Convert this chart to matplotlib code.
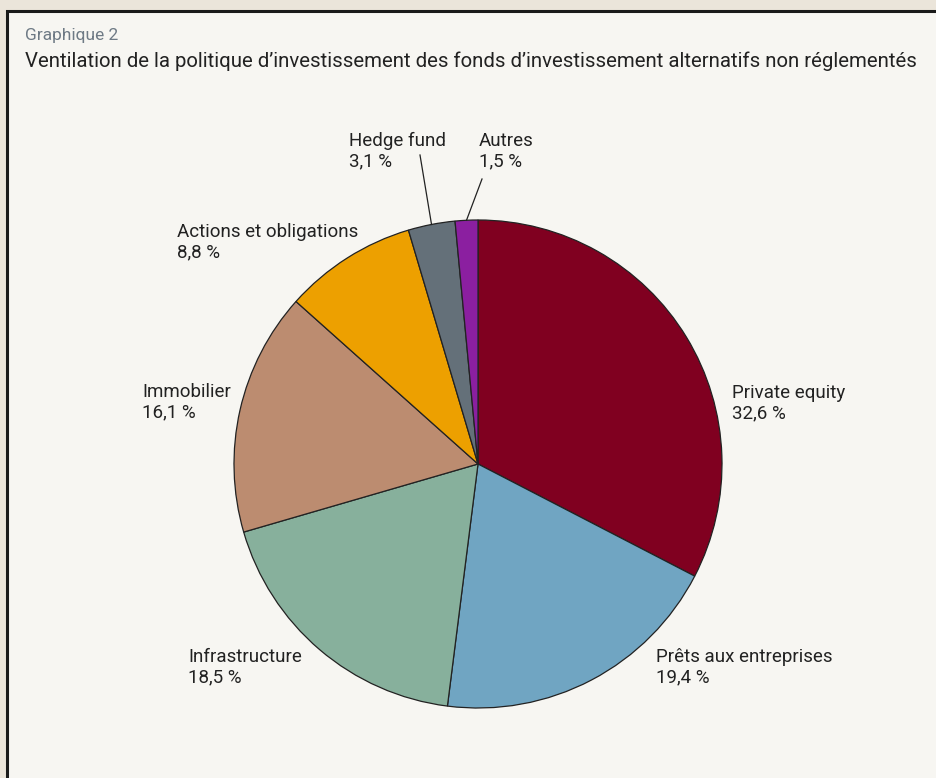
import numpy as np
import matplotlib
matplotlib.use("Agg")
import matplotlib.pyplot as plt
from matplotlib.patches import Rectangle

plt.rcParams["font.family"] = ["Roboto", "DejaVu Sans"]

categories = ["Private equity", "Prêts aux entreprises", "Infrastructure", "Immobilier",
              "Actions et obligations", "Hedge fund", "Autres"]
values = [32.6, 19.4, 18.5, 16.1, 8.8, 3.1, 1.5]
colors = ["#800020", "#70a5c2", "#87b09c", "#bc8c70", "#eda000", "#647079", "#8b1fa0"]

# label anchor positions (pixels from top-left: left edge, block centre)
label_pos = [(732, 403), (656, 667), (188, 667), (142, 402), (177, 242), (349, 151), (479, 151)]
leader_end = {5: (420, 155), 6: (482, 179)}

W, H = 937, 778
fig = plt.figure(figsize=(W / 100, H / 100), dpi=100)
fig.patch.set_facecolor("#ebe5da")
ax = fig.add_axes([0, 0, 1, 1])

# panel with border (open on the right and bottom, as in the source crop)
ax.add_patch(Rectangle((7, -5), W + 10, H - 11 + 5, facecolor="#f7f6f2", edgecolor="none", zorder=0))
ax.plot([7, 7, W + 2], [-5, H - 11, H - 11], color="#1a1a1a", lw=2.2, solid_joinstyle="miter", zorder=1)

ax.text(25, H - 35, "Graphique 2", fontsize=12.5, color="#6e7a85", va="center", ha="left")
ax.text(25, H - 61, "Ventilation de la politique d\u2019investissement des fonds d\u2019investissement alternatifs non réglementés",
        fontsize=14.65, color="#222222", va="center", ha="left")

cx, cy, r = 478, H - 464, 244
wedges, _ = ax.pie(values, colors=colors, startangle=90, counterclock=False,
                   center=(cx, cy), radius=r, frame=True,
                   wedgeprops=dict(edgecolor="#222222", linewidth=0.9))
ax.set_xlim(0, W)
ax.set_ylim(0, H)
ax.set_aspect("equal")
ax.axis("off")

for i, (name, v) in enumerate(zip(categories, values)):
    x, y = label_pos[i]
    ax.text(x, H - y, "{}\n{} %".format(name, str(v).replace(".", ",")), fontsize=13.5,
            color="#222222", ha="left", va="center", linespacing=1.17)
    if i in leader_end:
        w = wedges[i]
        ang = np.deg2rad((w.theta1 + w.theta2) / 2)
        px, py = cx + r * np.cos(ang), cy + r * np.sin(ang)
        ex, ey = leader_end[i]
        ax.plot([ex, px], [H - ey, py], color="#222222", lw=0.9)

fig.savefig("out.png", dpi=100, facecolor=fig.get_facecolor())
